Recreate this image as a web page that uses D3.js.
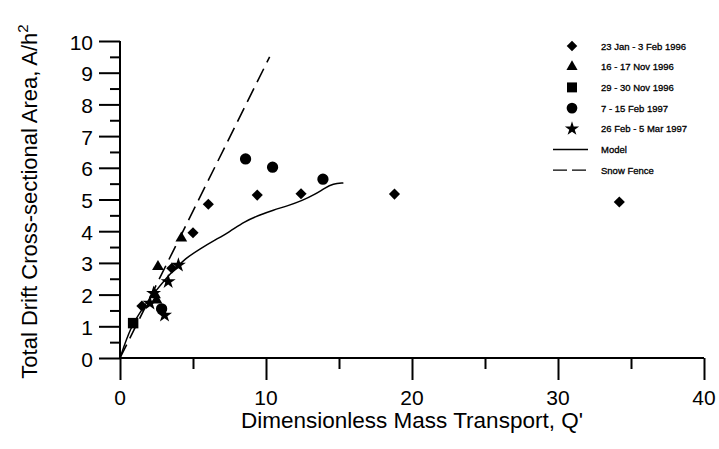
<!DOCTYPE html>
<html>
<head>
<meta charset="utf-8">
<script src="https://cdn.jsdelivr.net/npm/d3@7"></script>
<style>
  body { margin: 0; background: #fff; }
  svg { display: block; }
  text { font-family: Arial, "Liberation Sans", sans-serif; fill: #000; }
</style>
</head>
<body>
<div id="chart"></div>
<script>
var width = 719,
    height = 449;

const margin = { top: 41, right: 15, bottom: 91, left: 120 };

// Observed drifts, [Q', A/h^2]
const janFeb1996 = [[34.2, 4.92], [18.8, 5.17], [12.4, 5.18], [9.4, 5.14], [6.05, 4.85],
    [5.0, 3.95], [3.55, 2.83], [1.5, 1.64], [2.85, 1.52]];
const nov1996a = [[4.2, 3.78], [2.6, 2.88], [2.4, 1.99], [2.5, 1.83]];
const nov1996b = [[0.9, 1.1]];
const feb1997 = [[8.6, 6.28], [10.45, 6.02], [13.9, 5.64], [2.85, 1.55]];
const febMar1997 = [[4.0, 2.93], [3.3, 2.41], [3.05, 1.35], [2.3, 2.04], [2.05, 1.73]];

const modelLine = [[0, 0], [0.7, 0.95], [1.5, 1.55], [2.5, 2.15], [3.5, 2.7], [4.5, 3.15],
    [5.5, 3.45], [6.5, 3.72], [7.5, 3.98], [8.5, 4.3], [9.5, 4.5], [10.5, 4.67],
    [11.5, 4.8], [12.5, 4.97], [13.3, 5.15], [14.0, 5.35], [14.6, 5.5], [15.3, 5.52]];
const snowFence = [[0, 0], [10.25, 9.5]];

const xTicks = [0, 10, 20, 30, 40];
const yTicks = [0, 1, 2, 3, 4, 5, 6, 7, 8, 9, 10];

const legendLabels = ['23 Jan - 3 Feb 1996', '16 - 17 Nov 1996', '29 - 30 Nov 1996',
    '7 - 15 Feb 1997', '26 Feb - 5 Mar 1997', 'Model', 'Snow Fence'];

var svg = d3.select('#chart').append('svg')
    .attr('width', width)
    .attr('height', height);

var x = d3.scaleLinear().domain([0, 40]).range([margin.left, width - margin.right]);
var y = d3.scaleLinear().domain([0, 10]).range([height - margin.bottom, margin.top]);

// axes
var xAxis = svg.append('g')
    .attr('transform', `translate(0,${y(0)})`)
    .call(d3.axisBottom(x).tickValues(d3.range(0, 40.1, 5)).tickSize(11).tickFormat(''));
xAxis.selectAll('.tick line')
    .attr('y2', d => d % 10 === 0 ? 22 : 11);
xAxis.selectAll('line, path').attr('stroke', '#000').attr('stroke-width', 2);
xAxis.select('.domain').attr('d', `M${x(0)},0H${x(40)}`);

svg.append('g').selectAll('text')
    .data(xTicks).enter()
    .append('text')
    .attr('x', d => x(d))
    .attr('y', y(0) + 47)
    .attr('text-anchor', 'middle')
    .style('font-size', '21px')
    .text(d => d);

var yAxis = svg.append('g')
    .attr('transform', `translate(${x(0)},0)`)
    .call(d3.axisLeft(y).tickValues(d3.range(0, 10.01, 0.5)).tickSize(10).tickFormat(''));
yAxis.selectAll('.tick line')
    .attr('x2', d => d % 1 === 0 ? -21 : -10);
yAxis.selectAll('line, path').attr('stroke', '#000').attr('stroke-width', 2);
yAxis.select('.domain').attr('d', `M0,${y(0)}V${y(10)}`);

svg.append('g').selectAll('text')
    .data(yTicks).enter()
    .append('text')
    .attr('x', x(0) - 27)
    .attr('y', d => y(d) + 8.5)
    .attr('text-anchor', 'end')
    .style('font-size', '21px')
    .text(d => d);

// axis titles
svg.append('text')
    .attr('x', (x(0) + x(40)) / 2)
    .attr('y', 428)
    .attr('text-anchor', 'middle')
    .style('font-size', '22.5px')
    .text("Dimensionless Mass Transport, Q'");

var yTitle = svg.append('text')
    .attr('transform', `translate(37,${(y(0) + y(10)) / 2 + 2}) rotate(-90)`)
    .attr('text-anchor', 'middle')
    .style('font-size', '22px');
yTitle.append('tspan').text('Total Drift Cross-sectional Area, A/h');
yTitle.append('tspan').attr('dy', -9).style('font-size', '15px').text('2');

// lines
const line = d3.line()
    .x(d => x(d[0]))
    .y(d => y(d[1]))
    .curve(d3.curveBasis);

svg.append('path')
    .datum(modelLine)
    .attr('d', line)
    .attr('fill', 'none')
    .attr('stroke', '#000')
    .attr('stroke-width', 1.5);

svg.append('path')
    .datum(snowFence)
    .attr('d', d3.line().x(d => x(d[0])).y(d => y(d[1])))
    .attr('fill', 'none')
    .attr('stroke', '#000')
    .attr('stroke-width', 1.6)
    .attr('stroke-dasharray', '15,7');

// markers
const symbols = [
    { data: janFeb1996, type: d3.symbolSquare, size: 62, rot: 45 },
    { data: nov1996a, type: d3.symbolTriangle, size: 60, rot: 0 },
    { data: nov1996b, type: d3.symbolSquare, size: 110, rot: 0 },
    { data: feb1997, type: d3.symbolCircle, size: 100, rot: 0 },
    { data: febMar1997, type: d3.symbolStar, size: 70, rot: 0 }
];

symbols.forEach(s => {
    svg.append('g').selectAll('path')
        .data(s.data).enter()
        .append('path')
        .attr('d', d3.symbol().type(s.type).size(s.size))
        .attr('transform', d => `translate(${x(d[0])},${y(d[1])}) rotate(${s.rot})`)
        .attr('fill', '#000');
});

// legend
const legend = svg.append('g');
const legendY = i => 46 + i * 20.7;

legend.selectAll('.key')
    .data(symbols).enter()
    .append('path')
    .attr('d', s => d3.symbol().type(s.type).size(s.size * 0.9)())
    .attr('transform', (s, i) => `translate(572,${legendY(i)}) rotate(${s.rot})`)
    .attr('fill', '#000');

legend.append('line')
    .attr('x1', 553).attr('x2', 588)
    .attr('y1', legendY(5)).attr('y2', legendY(5))
    .attr('stroke', '#000').attr('stroke-width', 1.3);

legend.append('line')
    .attr('x1', 553).attr('x2', 588)
    .attr('y1', legendY(6)).attr('y2', legendY(6))
    .attr('stroke', '#000').attr('stroke-width', 1.3)
    .attr('stroke-dasharray', '14,5');

legend.selectAll('.label')
    .data(legendLabels).enter()
    .append('text')
    .attr('x', 601)
    .attr('y', (d, i) => legendY(i) + 3.5)
    .style('font-size', '9.5px')
    .style('stroke', '#000')
    .style('stroke-width', 0.3)
    .text(d => d);
</script>
</body>
</html>
